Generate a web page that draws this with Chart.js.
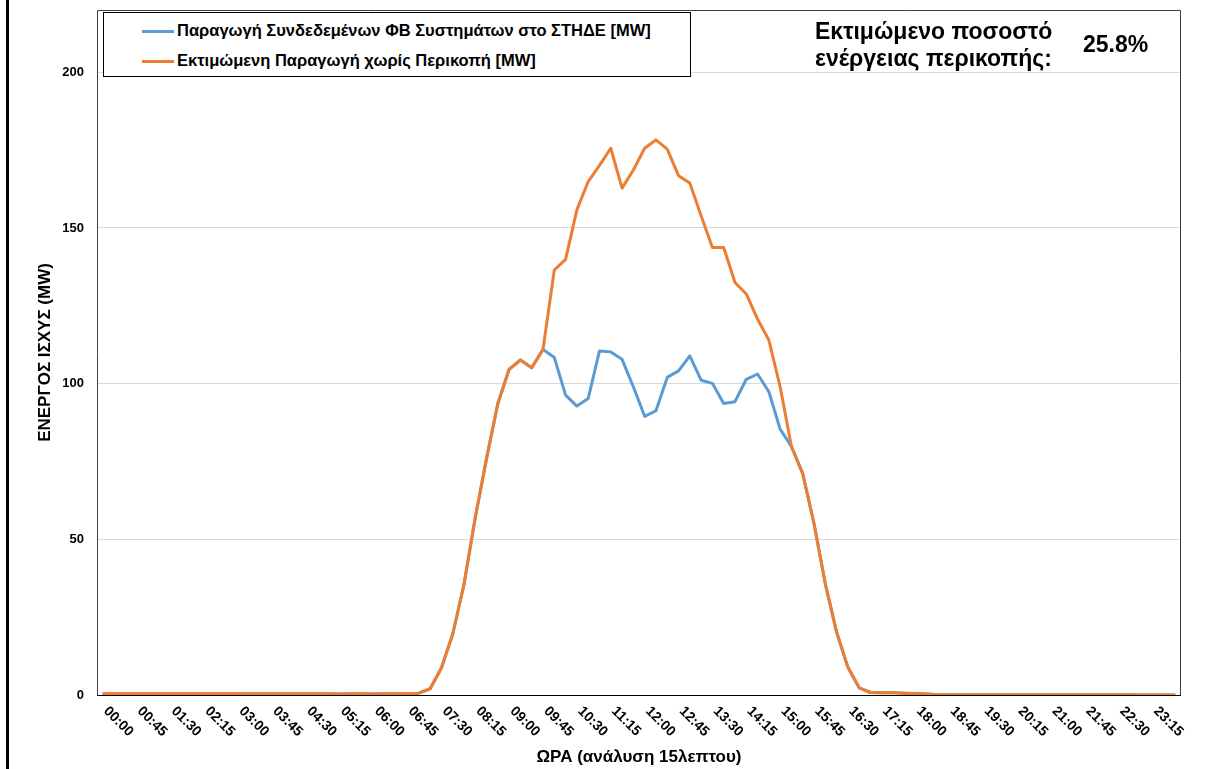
<!DOCTYPE html>
<html>
<head>
<meta charset="utf-8">
<script src="https://cdn.jsdelivr.net/npm/chart.js@4"></script>
<style>
  body { margin: 0; background: #fff; font-family: "Liberation Sans", Arial, sans-serif; }
  #wrap { position: relative; width: 1205px; height: 769px; overflow: hidden; }
  #frameLine { position: absolute; left: 6px; top: 0; width: 3px; height: 769px; background: #000; }
  #legendBox { position: absolute; left: 103px; top: 12px; width: 586px; height: 63px;
    border: 1px solid #000; background: #fff; font-weight: bold; font-size: 16.5px; }
  .legItem { position: absolute; left: 38px; height: 20px; line-height: 20px; white-space: nowrap; }
  .legItem span.swatch { display: inline-block; width: 32px; height: 3px; vertical-align: middle; margin-right: 3px; }
  #note { position: absolute; left: 815px; top: 18px; font-weight: bold; font-size: 23px; line-height: 27px; }
  #pct { position: absolute; left: 1083px; top: 31px; font-weight: bold; font-size: 23px; }
</style>
</head>
<body>
<div id="wrap">
  <canvas id="chart" width="1205" height="769"></canvas>
  <div id="frameLine"></div>
  <div id="legendBox"></div>
  <div id="note">Εκτιμώμενο ποσοστό<br>ενέργειας περικοπής:</div>
  <div id="pct">25.8%</div>
</div>
<script>
const times = [
  "00:00","00:15","00:30","00:45","01:00","01:15","01:30","01:45",
  "02:00","02:15","02:30","02:45","03:00","03:15","03:30","03:45",
  "04:00","04:15","04:30","04:45","05:00","05:15","05:30","05:45",
  "06:00","06:15","06:30","06:45","07:00","07:15","07:30","07:45",
  "08:00","08:15","08:30","08:45","09:00","09:15","09:30","09:45",
  "10:00","10:15","10:30","10:45","11:00","11:15","11:30","11:45",
  "12:00","12:15","12:30","12:45","13:00","13:15","13:30","13:45",
  "14:00","14:15","14:30","14:45","15:00","15:15","15:30","15:45",
  "16:00","16:15","16:30","16:45","17:00","17:15","17:30","17:45",
  "18:00","18:15","18:30","18:45","19:00","19:15","19:30","19:45",
  "20:00","20:15","20:30","20:45","21:00","21:15","21:30","21:45",
  "22:00","22:15","22:30","22:45","23:00","23:15","23:30","23:45"
];

// labels shown under the axis (every 45 minutes)
const tickLabels = [
  "00:00","00:45","01:30","02:15","03:00","03:45","04:30","05:15",
  "06:00","06:45","07:30","08:15","09:00","09:45","10:30","11:15",
  "12:00","12:45","13:30","14:15","15:00","15:45","16:30","17:15",
  "18:00","18:45","19:30","20:15","21:00","21:45","22:30","23:15"
];

const yTicks = [0, 50, 100, 150, 200];

const seriesNames = [
  "Παραγωγή Συνδεδεμένων ΦΒ Συστημάτων στο ΣΤΗΔΕ [MW]",
  "Εκτιμώμενη Παραγωγή χωρίς Περικοπή [MW]"
];

// connected PV production (curtailed)
const pvActual = [
  0.5,0.5,0.5,0.5,0.5,0.5,0.5,0.5, 0.5,0.5,0.5,0.5,0.5,0.4,0.4,0.4,
  0.4,0.4,0.4,0.4,0.4,0.3,0.4,0.4, 0.3,0.4,0.4,0.5,0.6,2.0,8.7,19.5,
  35.5,57.0,76.0,93.6,104.6,107.6,105.1,111.0, 108.4,96.3,92.8,95.2,110.5,110.2,107.8,99.0,
  89.5,91.3,102.0,104.1,108.9,101.1,100.1,93.6, 94.2,101.4,103.1,97.4,85.4,79.8,71.1,55.0,
  35.7,20.2,8.9,2.3,0.8,0.7,0.7,0.6, 0.5,0.3,0.1,0.1,0.1,0.1,0.1,0.1,
  0.1,0.1,0.1,0.1,0.1,0.1,0.1,0.1, 0.1,0.1,0.1,0.1,0.0,0.0,0.0,0.0
];

// estimated production without curtailment
const pvEstimated = [
  0.5,0.5,0.5,0.5,0.5,0.5,0.5,0.5, 0.5,0.5,0.5,0.5,0.5,0.4,0.4,0.4,
  0.4,0.4,0.4,0.4,0.4,0.3,0.4,0.4, 0.3,0.4,0.4,0.5,0.6,2.0,8.7,19.5,
  35.5,57.0,76.0,93.6,104.6,107.6,105.1,111.0, 136.5,139.9,155.8,164.9,170.1,175.6,162.8,168.6,
  175.6,178.3,175.3,166.8,164.4,153.9,143.7,143.7, 132.5,128.8,120.7,114.0,99.0,79.8,71.1,55.0,
  35.7,20.2,8.9,2.3,0.8,0.7,0.7,0.6, 0.5,0.3,0.1,0.1,0.1,0.1,0.1,0.1,
  0.1,0.1,0.1,0.1,0.1,0.1,0.1,0.1, 0.1,0.1,0.1,0.1,0.0,0.0,0.0,0.0
];

const colors = ['#5B9BD5', '#ED7D31'];

// legend (html box inside the plot area)
const legendBox = document.getElementById('legendBox');
seriesNames.forEach((name, i) => {
  const item = document.createElement('div');
  item.className = 'legItem';
  item.style.top = (7 + i * 30) + 'px';
  item.innerHTML = '<span class="swatch" style="background:' + colors[i] + '"></span>' + name;
  legendBox.appendChild(item);
});

const FONT = '"Liberation Sans", Arial, sans-serif';

const plotDecor = {
  id: 'plotDecor',
  beforeDatasetsDraw(chart) {
    const { ctx, chartArea } = chart;
    const { left, top, right, bottom } = chartArea;
    ctx.save();
    ctx.strokeStyle = '#404040';
    ctx.lineWidth = 1;
    ctx.beginPath();
    ctx.moveTo(left + 0.5, bottom);
    ctx.lineTo(left + 0.5, top + 0.5);
    ctx.lineTo(right - 0.5, top + 0.5);
    ctx.lineTo(right - 0.5, bottom);
    ctx.stroke();
    ctx.strokeStyle = '#000';
    ctx.beginPath();
    ctx.moveTo(left, bottom + 0.5);
    ctx.lineTo(right, bottom + 0.5);
    ctx.stroke();
    ctx.restore();
  },
  afterDraw(chart) {
    const { ctx, chartArea, scales: { x } } = chart;
    ctx.save();
    ctx.font = 'bold 14px ' + FONT;
    ctx.fillStyle = '#000';
    ctx.textAlign = 'left';
    ctx.textBaseline = 'middle';
    tickLabels.forEach(lab => {
      const px = x.getPixelForValue(times.indexOf(lab));
      ctx.save();
      ctx.translate(px + 3, chartArea.bottom + 14);
      ctx.rotate(Math.PI / 4);
      ctx.fillText(lab, 0, 0);
      ctx.restore();
    });
    ctx.restore();
  }
};

const ctx = document.getElementById('chart').getContext('2d');
new Chart(ctx, {
  type: 'line',
  data: {
    labels: times,
    datasets: [
      {
        label: seriesNames[1],
        data: pvEstimated,
        borderColor: colors[1],
        borderWidth: 3,
        pointRadius: 0,
        tension: 0,
        borderJoinStyle: 'round',
        order: 0
      },
      {
        label: seriesNames[0],
        data: pvActual,
        borderColor: colors[0],
        borderWidth: 3,
        pointRadius: 0,
        tension: 0,
        borderJoinStyle: 'round',
        order: 1
      }
    ]
  },
  options: {
    responsive: false,
    animation: false,
    devicePixelRatio: 1,
    layout: { padding: { left: 0, top: 10, right: 24, bottom: 0 } },
    plugins: { legend: { display: false }, tooltip: { enabled: false } },
    scales: {
      x: {
        offset: true,
        grid: { display: false, drawTicks: false },
        border: { display: false },
        ticks: { display: false },
        title: {
          display: true,
          text: 'ΩΡΑ (ανάλυση 15λεπτου)',
          color: '#000',
          font: { family: FONT, size: 17, weight: 'bold' },
          padding: { top: 0, bottom: 1 }
        },
        afterFit(scale) { scale.height = 74; }
      },
      y: {
        min: 0,
        max: 220,
        bounds: 'data',
        grid: { color: '#d9d9d9', lineWidth: 1, drawTicks: false },
        border: { display: false },
        ticks: {
          padding: 13,
          color: '#000',
          font: { family: FONT, size: 13, weight: 'bold' }
        },
        afterBuildTicks(scale) { scale.ticks = yTicks.map(v => ({ value: v })); },
        title: {
          display: true,
          text: 'ΕΝΕΡΓΟΣ ΙΣΧΥΣ (MW)',
          color: '#000',
          font: { family: FONT, size: 17, weight: 'bold' },
          padding: { top: 35, bottom: 0 }
        },
        afterFit(scale) {
          scale.width = 97;
          scale.paddingTop = 0;
          scale.paddingBottom = 0;
        }
      }
    }
  },
  plugins: [plotDecor]
});
</script>
</body>
</html>
